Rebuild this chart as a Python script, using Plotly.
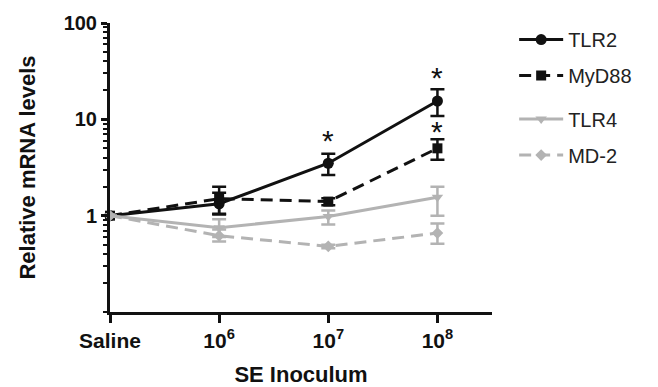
import math
import plotly.graph_objects as go

categories = ["Saline", "10<sup>6</sup>", "10<sup>7</sup>", "10<sup>8</sup>"]
x_pos = [0, 1, 2, 3]

tlr2 = [1.0, 1.33, 3.5, 15.5]
tlr2_up = [0.0, 0.40, 0.90, 5.0]
tlr2_dn = [0.0, 0.30, 0.85, 4.7]

myd88 = [1.0, 1.5, 1.4, 5.0]
myd88_up = [0.0, 0.50, 0.12, 1.2]
myd88_dn = [0.0, 0.45, 0.12, 1.2]

tlr4 = [1.0, 0.75, 0.98, 1.55]
tlr4_up = [0.0, 0.17, 0.15, 0.45]
tlr4_dn = [0.0, 0.15, 0.17, 0.55]

md2 = [1.0, 0.62, 0.48, 0.66]
md2_up = [0.0, 0.10, 0.02, 0.17]
md2_dn = [0.0, 0.08, 0.02, 0.15]

star_x = [2, 3, 3]
star_y = [6.0, 27.0, 7.4]

BLACK = "#111111"
GRAY = "#b3b3b3"

fig = go.Figure()

def add(name, y, up, dn, color, symbol, dash, size, legend):
    fig.add_trace(go.Scatter(
        x=x_pos, y=y, name=name, mode="lines+markers",
        line=dict(color=color, width=3, dash=dash),
        marker=dict(color=color, symbol=symbol, size=size),
        error_y=dict(type="data", symmetric=False, array=up, arrayminus=dn,
                     color=color, thickness=2.5, width=7),
        cliponaxis=False, legend=legend, legendgroup=name,
    ))

add("TLR2", tlr2, tlr2_up, tlr2_dn, BLACK, "circle", "solid", 11, "legend")
add("MyD88", myd88, myd88_up, myd88_dn, BLACK, "square", "12px,7px", 10, "legend")
add("TLR4", tlr4, tlr4_up, tlr4_dn, GRAY, "triangle-down", "solid", 10, "legend2")
add("MD-2", md2, md2_up, md2_dn, GRAY, "diamond", "12px,7px", 9, "legend2")

for sx, sy in zip(star_x, star_y):
    fig.add_annotation(x=sx, y=math.log10(sy), yref="y", xref="x", text="*", showarrow=False,
                       font=dict(size=30, color=BLACK, family="Liberation Sans"))

legend_style = dict(font=dict(size=20, color="#222222", family="Liberation Sans"),
                    tracegroupgap=7, itemwidth=44, bgcolor="rgba(0,0,0,0)",
                    xanchor="left", yanchor="top")

fig.update_layout(
    width=658, height=387,
    margin=dict(l=110, r=166, t=20, b=75),
    plot_bgcolor="white", paper_bgcolor="white",
    font=dict(family="Liberation Sans", color=BLACK),
    legend=dict(x=1.058, y=1.01, **legend_style),
    legend2=dict(x=1.058, y=0.735, **legend_style),
    xaxis=dict(
        range=[0, 3.5], tickvals=x_pos, ticktext=categories, automargin=False,
        showline=True, linecolor=BLACK, linewidth=3, showgrid=False, zeroline=False,
        ticks="outside", ticklen=8, tickwidth=3, tickcolor=BLACK,
        tickfont=dict(size=21, weight="bold", family="Liberation Sans", color=BLACK),
        title=dict(text="SE Inoculum", font=dict(size=22, weight="bold", family="Liberation Sans"), standoff=18),
    ),
    yaxis=dict(
        type="log", range=[-1, 2], tickvals=[1, 10, 100], ticktext=["1", "10", "100"],
        showline=True, linecolor=BLACK, linewidth=3, showgrid=False, zeroline=False,
        ticks="outside", ticklen=6, tickwidth=3, tickcolor=BLACK,
        minor=dict(ticks="outside", ticklen=4, tickwidth=2, tickcolor=BLACK, dtick="D1", showgrid=False),
        tickfont=dict(size=20, weight="bold", family="Liberation Sans", color=BLACK),
        title=dict(text="Relative mRNA levels", font=dict(size=22, weight="bold", family="Liberation Sans"), standoff=22),
    ),
    showlegend=True,
)

fig.write_html("out.html")
